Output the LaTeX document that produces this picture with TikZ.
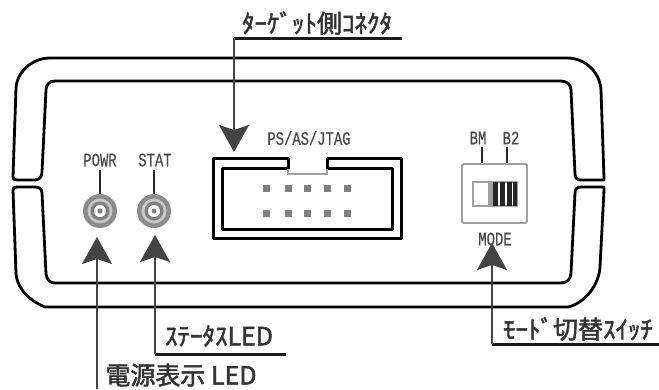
\documentclass[tikz,border=0pt]{standalone}
\usepackage{fontspec}
\usetikzlibrary{arrows.meta}
\newfontfamily\cjkfont[FakeBold=2]{Noto Sans CJK JP}
\newfontfamily\narrowfont[FakeStretch=0.73,FakeBold=0.5]{Liberation Mono}
\definecolor{leadgray}{HTML}{444444}
\definecolor{smalltxt}{HTML}{4A4A4A}
\definecolor{lightedge}{HTML}{A0A0A0}
\definecolor{pingray}{HTML}{808080}
\tikzset{
  bodyline/.style={line width=2.8pt,black,line join=round},
  leader/.style={line width=2.4pt,leadgray,-{Stealth[length=27pt,width=30pt,inset=5pt]}},
  shelf/.style={line width=3pt,black!90},
  biglabel/.style={inner sep=0pt,text=black!80,font=\cjkfont\fontsize{25}{25}\selectfont},
  smalllabel/.style={inner sep=0pt,text=smalltxt,font=\narrowfont\fontsize{19}{19}\selectfont},
  tick/.style={line width=2.8pt,black!85},
  pin/.style={fill=pingray,minimum size=7pt,inner sep=0pt,draw=none},
}
\begin{document}
\begin{tikzpicture}[x=1pt,y=-1pt]
\useasboundingbox (0,0) rectangle (659,389);
% body, upper half
\draw[bodyline] (13,177) -- (16,88) .. controls (17,72) and (32,58) .. (50,58)
  -- (567,58) .. controls (585,58) and (600,72) .. (601,90)
  -- (604,178) -- (604,180) -- (582,180) -- (582,180) -- (581,180)
  .. controls (577,180) and (575,178) .. (575,174) -- (571,90)
  .. controls (571,85) and (567,81) .. (561,81) -- (55,81)
  .. controls (49,81) and (46,85) .. (46,90) -- (42,172)
  .. controls (42,177) and (39,180) .. (35,180) -- (17,180)
  .. controls (14,180) and (13,179) .. (13,177) -- cycle;
% body, lower half
\draw[bodyline] (13,190) .. controls (13,188) and (14,187) .. (17,187) -- (35,187)
  .. controls (39,187) and (42,189) .. (42,193) -- (46,274)
  .. controls (47,280) and (50,283) .. (55,283) -- (561,283)
  .. controls (567,283) and (571,279) .. (571,273) -- (575,193)
  .. controls (575,189) and (577,187) .. (581,187) -- (604,187) -- (604,190)
  -- (600,267) .. controls (599,285) and (585,303) .. (568,307)
  -- (45,307) .. controls (32,302) and (17,290) .. (16,273) -- cycle;
% connector
\draw[bodyline,line width=3pt] (288,158) -- (213,158) -- (213,238) -- (401,238) -- (401,158) -- (327,158) -- (327,168) -- (392,168) -- (392,229) -- (222,229) -- (222,168) -- (288,168) -- cycle;
\draw[lightedge,line width=1.4pt] (288,169) -- (288,174) -- (327,174) -- (327,169);
\foreach \px/\nm in {266/a,288/b,307/c,327/d,347/e}{
  \node[pin] (pinup\nm) at (\px,188) {};
  \node[pin] (pindn\nm) at (\px,213) {};
}
% LEDs
\foreach \lx/\nm in {100/ledp,154/leds}{
  \node[circle,fill=black!45,minimum size=34pt,inner sep=0pt] (\nm) at (\lx,211) {};
  \fill[black!22] (\lx,211) circle (12.5pt);
  \fill[black!50] (\lx,211) circle (9.5pt);
  \fill[white] (\lx,211) circle (6pt);
  \fill[black!50] (\lx,211) circle (2.5pt);
}
\coordinate (powrtop) at (100,170);
\coordinate (stattop) at (154,170);
\draw[tick] (powrtop) -- (ledp.north);
\draw[tick] (stattop) -- (leds.north);
\node[smalllabel] (powrlbl) at (100,160) {POWR};
\node[smalllabel] (statlbl) at (155,160) {STAT};
\node[smalllabel] (jtaglbl) at (309,138) {PS/AS/JTAG};
% switch
\node[draw=lightedge,line width=1.8pt,rounded corners=1.5pt,minimum width=65pt,minimum height=59pt,inner sep=0pt] (swbox) at (494.5,193.5) {};
\fill[white,draw=lightedge,line width=1.8pt] (473,182) rectangle (517,206);
\fill[lightedge] (488,183) rectangle (493,205);
\foreach \sx in {493,500,507}{\fill[black!85] (\sx,182) rectangle (\sx+5,206);}
\fill[black!85] (513,182) rectangle (517,206);
\coordinate (bmtick) at (482,147);
\coordinate (bbtick) at (507,147);
\draw[tick] (bmtick) -- (bmtick |- swbox.north);
\draw[tick] (bbtick) -- (bbtick |- swbox.north);
\node[smalllabel] (bmlbl) at (478,138) {BM};
\node[smalllabel] (b2lbl) at (511,138) {B2};
\node[smalllabel] (modelbl) at (495,239) {MODE};
% callouts
\node[biglabel] (tgtlbl) at (317,23) {ﾀｰｹﾞｯﾄ側ｺﾈｸﾀ};
\node[biglabel] (statuslbl) at (219,336) {ｽﾃｰﾀｽLED};
\node[biglabel] (powerlbl) at (181,375) {電源表示 LED};
\node[biglabel] (modecall) at (578,329) {ﾓｰﾄﾞ切替ｽｲｯﾁ};
\coordinate (tgtend) at (402,38);
\coordinate (tgtbend) at (234,38);
\coordinate (tgttip) at (234,152);
\draw[shelf] (tgtend) -- (tgtbend);
\draw[leader] (tgtbend) -- (tgttip);
\coordinate (pwrstart) at (97,389);
\coordinate (pwrtip) at (97,237);
\draw[leader] (pwrstart) -- (pwrtip);
\coordinate (stend) at (286,354);
\coordinate (stbend) at (155,354);
\coordinate (sttip) at (155,235);
\draw[shelf] (stend) -- (stbend);
\draw[leader] (stbend) -- (sttip);
\coordinate (mdend) at (659,344);
\coordinate (mdbend) at (492,344);
\coordinate (mdtip) at (492,243);
\draw[shelf] (mdend) -- (mdbend);
\draw[leader] (mdbend) -- (mdtip);
\end{tikzpicture}
\end{document}
